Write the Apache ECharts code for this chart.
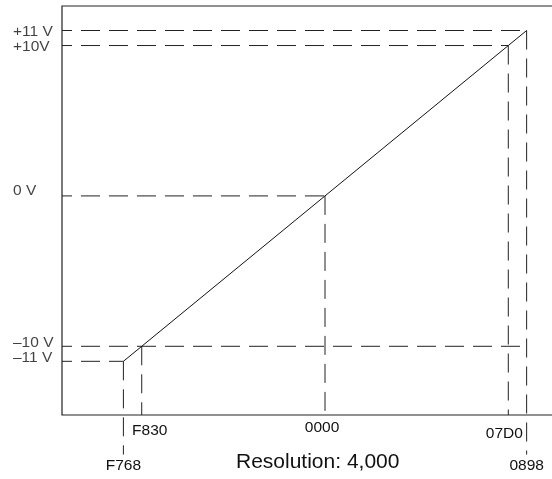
<!DOCTYPE html>
<html>
<head>
<meta charset="utf-8">
<script src="https://cdn.jsdelivr.net/npm/echarts@6/dist/echarts.min.js"></script>
<style>
  html, body { margin: 0; padding: 0; background: #fff; }
  #chart { width: 552px; height: 479px; }
</style>
</head>
<body>
<div id="chart"></div>
<script>
// converter counts (hex codes) vs. input voltage
const counts = [-2200, -2000, 0, 2000, 2200];
const codes = ['F768', 'F830', '0000', '07D0', '0898'];
const volts = [-11, -10, 0, 10, 11];
const voltLabels = ['–11 V', '–10 V', '0 V', '+10V', '+11 V'];

// axis ranges
const xMin = -2870, xMax = 2586;
const yMin = -14.57, yMax = 12.63;
// where the dashed guides stop
const hGuideEnd = [-2200, 2200, 0, 2000, 2200];
const vGuideEnd = [-17.2, yMin, yMin, yMin, -17.2];

const FONT = 'Liberation Sans, Arial, Helvetica, sans-serif';
const dash = { color: '#222', width: 1, type: [19, 9] };
// vertical nudge of the voltage labels (px), as in the drawing
const voltLabelShift = [-4, -4, -5, 1, 1];

var chart = echarts.init(document.getElementById('chart'));

var series = [];
// dashed guides
for (let i = 0; i < counts.length; i++) {
  series.push({
    type: 'line', silent: true, symbol: 'none', clip: false,
    lineStyle: Object.assign({ dashOffset: 9 }, dash),
    data: [[xMin, volts[i]], [hGuideEnd[i], volts[i]]]
  });
  series.push({
    type: 'line', silent: true, symbol: 'none', clip: false,
    lineStyle: dash,
    data: [[counts[i], volts[i]], [counts[i], vGuideEnd[i]]]
  });
}
// transfer line
series.push({
  type: 'line', silent: true, symbol: 'none',
  lineStyle: { color: '#111', width: 1 },
  data: counts.map((c, i) => [c, volts[i]])
});
// voltage labels on the left (series labels so none get dropped)
series.push({
  type: 'scatter', silent: true, symbolSize: 0, clip: false,
  data: volts.map((v, i) => ({
    value: [xMin, v],
    label: { offset: [-49, voltLabelShift[i]] }
  })),
  label: {
    show: true, position: 'inside', align: 'left', verticalAlign: 'middle',
    fontSize: 15.5, fontFamily: FONT, color: '#111',
    formatter: p => voltLabels[p.dataIndex]
  }
});

// label tweaks so they sit like the original drawing
const xRich = {
  F768: '{low|F768}', F830: '{r|F830}', '0000': '{m|0000}',
  '07D0': '{l|07D0}', '0898': '{low|0898}'
};
const txt = { fontSize: 15.5, fontFamily: FONT, color: '#111' };

var option = {
  animation: false,
  // plot box runs past the right edge of the picture, like the original
  grid: {
    left: 62, width: 500, top: 6, bottom: 64,
    outerBoundsMode: 'none', containLabel: false,
    show: true, borderColor: '#222', borderWidth: 1.2
  },
  xAxis: {
    type: 'value', min: xMin, max: xMax,
    axisLine: { show: false },
    axisTick: { show: false },
    splitLine: { show: false },
    axisLabel: {
      customValues: counts,
      interval: 0, hideOverlap: false,
      margin: 5,
      formatter: v => xRich[codes[counts.indexOf(v)]],
      rich: {
        m: Object.assign({ padding: [0, 6, 0, 0] }, txt),
        r: Object.assign({ padding: [3, 0, 0, 16] }, txt),
        l: Object.assign({ padding: [6, 8, 0, 0] }, txt),
        low: Object.assign({ padding: [38, 0, 0, 0] }, txt)
      }
    }
  },
  yAxis: {
    type: 'value', min: yMin, max: yMax,
    axisLine: { show: false },
    axisTick: { show: false },
    splitLine: { show: false },
    axisLabel: { show: false }
  },
  graphic: [{
    type: 'text', left: 236, top: 452,
    style: { text: 'Resolution: 4,000', font: '21px ' + FONT, fill: '#111' }
  }],
  series: series
};

chart.setOption(option);
</script>
</body>
</html>
